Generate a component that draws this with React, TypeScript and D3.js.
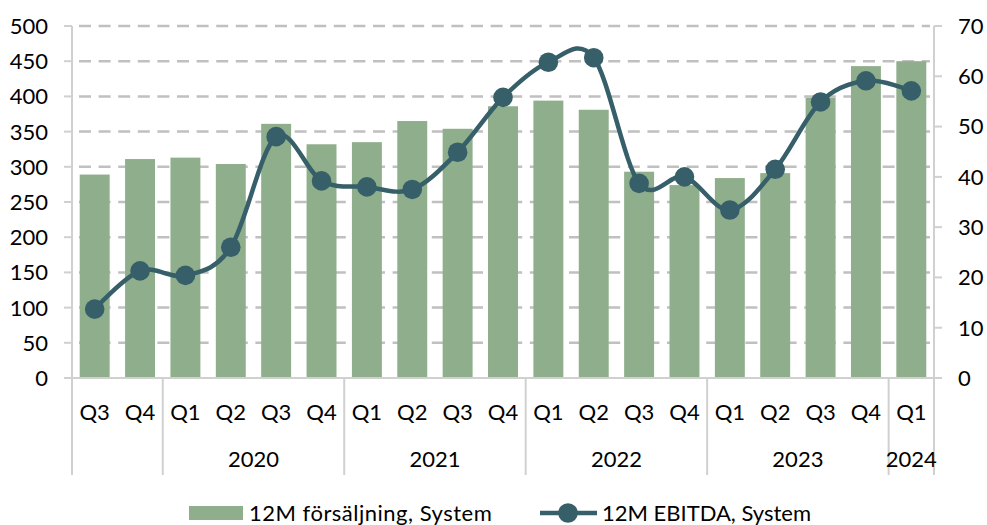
import React from 'react';
import * as d3 from 'd3';

const WIDTH = 987;
const HEIGHT = 525;
const MARGIN = { top: 26, right: 53, bottom: 147, left: 72 };

const quarters = ['Q3', 'Q4', 'Q1', 'Q2', 'Q3', 'Q4', 'Q1', 'Q2', 'Q3', 'Q4', 'Q1', 'Q2', 'Q3', 'Q4', 'Q1', 'Q2', 'Q3', 'Q4', 'Q1'];
const years = ['2019', '2019', '2020', '2020', '2020', '2020', '2021', '2021', '2021', '2021', '2022', '2022', '2022', '2022', '2023', '2023', '2023', '2023', '2024'];
const yearLabels: Record<string, string> = { '2019': '', '2020': '2020', '2021': '2021', '2022': '2022', '2023': '2023', '2024': '2024' };

const sales = [289, 311, 313, 304, 361, 332, 335, 365, 354, 386, 394, 381, 293, 274, 284, 291, 398, 443, 450];
const ebitda = [13.7, 21.3, 20.4, 26.0, 48.0, 39.2, 38.0, 37.5, 44.9, 55.8, 62.8, 63.7, 38.7, 40.0, 33.4, 41.5, 54.9, 59.1, 57.1];

const leftTicks = [0, 50, 100, 150, 200, 250, 300, 350, 400, 450, 500];
const rightTicks = [0, 10, 20, 30, 40, 50, 60, 70];

const salesName = '12M försäljning, System';
const ebitdaName = '12M EBITDA, System';

const BAR = '#8fae8b';
const LINE = '#365f69';
const GRID = '#c0c0c0';
const AXIS = '#d0d0d0';
const FONT = 'Lato, "Open Sans", sans-serif';

export default function App() {
    const plotW = WIDTH - MARGIN.left - MARGIN.right;
    const plotH = HEIGHT - MARGIN.top - MARGIN.bottom;
    const x0 = MARGIN.left;
    const y0 = MARGIN.top;
    const bottom = y0 + plotH;

    const idx = quarters.map((_, i) => String(i));
    const x = d3.scaleBand().domain(idx).range([x0, x0 + plotW]).paddingInner(0.34).paddingOuter(0.17);
    const step = x.step();
    const xStart = (i: number) => x0 + i * step;
    const xMid = (i: number) => x(String(i))! + x.bandwidth() / 2;

    const yL = d3.scaleLinear().domain([0, 500]).range([bottom, y0]);
    const yR = d3.scaleLinear().domain([0, 70]).range([bottom, y0]);

    // excel-style smoothed line
    const line = d3
        .line<number>()
        .x((_, i) => xMid(i))
        .y((d) => yR(d))
        .curve(d3.curveCatmullRom.alpha(0));

    // group years into spans
    const groups: { label: string; start: number; end: number }[] = [];
    years.forEach((yr, i) => {
        const last = groups[groups.length - 1];
        if (last && last.label === yr) last.end = i;
        else groups.push({ label: yr, start: i, end: i });
    });

    const sepBottom = 475;
    const qY = 412;
    const yearY = 459;

    return (
        <svg
            width={WIDTH}
            height={HEIGHT}
            style={{ position: 'absolute', left: 0, top: 0, background: '#fff' }}
            fontFamily={FONT}
            fontSize={22}
            fill="#000"
        >
            {/* gridlines */}
            {leftTicks.slice(1).map((t) => (
                <line
                    key={'g' + t}
                    x1={x0}
                    x2={x0 + plotW - 4}
                    y1={yL(t)}
                    y2={yL(t)}
                    stroke={GRID}
                    strokeWidth={2.5}
                    strokeDasharray="12 7.6"
                    strokeDashoffset={-7}
                />
            ))}

            {/* bars */}
            {sales.map((v, i) => (
                <rect key={'b' + i} x={x(String(i))} y={yL(v)} width={x.bandwidth()} height={bottom - yL(v)} fill={BAR} />
            ))}

            {/* axes */}
            <line x1={x0} x2={x0} y1={y0} y2={bottom} stroke={AXIS} strokeWidth={2} />
            <line x1={x0 + plotW} x2={x0 + plotW} y1={y0} y2={bottom} stroke={AXIS} strokeWidth={2} />
            <line x1={x0 - 8} x2={x0 + plotW} y1={bottom} y2={bottom} stroke={AXIS} strokeWidth={2} />
            {leftTicks.map((t) => (
                <g key={'lt' + t}>
                    <line x1={x0 - 8} x2={x0} y1={yL(t)} y2={yL(t)} stroke={AXIS} strokeWidth={2} />
                    <text x={48} y={yL(t)} dy="0.36em" textAnchor="end">
                        {t}
                    </text>
                </g>
            ))}
            {rightTicks.map((t) => (
                <g key={'rt' + t}>
                    <line x1={x0 + plotW} x2={x0 + plotW + 8} y1={yR(t)} y2={yR(t)} stroke={AXIS} strokeWidth={2} />
                    <text x={958} y={yR(t)} dy="0.36em" textAnchor="start">
                        {t}
                    </text>
                </g>
            ))}

            {/* category separators */}
            {groups.map((g) => (
                <line key={'s' + g.start} x1={xStart(g.start)} x2={xStart(g.start)} y1={bottom} y2={sepBottom} stroke={AXIS} strokeWidth={2} />
            ))}
            <line x1={x0 + plotW} x2={x0 + plotW} y1={bottom} y2={sepBottom} stroke={AXIS} strokeWidth={2} />

            {/* labels */}
            {quarters.map((q, i) => (
                <text key={'q' + i} x={xMid(i)} y={qY} dy="0.36em" textAnchor="middle">
                    {q}
                </text>
            ))}
            {groups.map((g) => (
                <text key={'y' + g.start} x={(xMid(g.start) + xMid(g.end)) / 2} y={yearY} dy="0.36em" textAnchor="middle">
                    {yearLabels[g.label]}
                </text>
            ))}

            {/* ebitda line */}
            <path d={line(ebitda) || ''} fill="none" stroke={LINE} strokeWidth={4.5} />
            {ebitda.map((v, i) => (
                <circle key={'c' + i} cx={xMid(i)} cy={yR(v)} r={9.8} fill={LINE} />
            ))}

            {/* legend */}
            <rect x={189} y={506} width={54} height={14} fill={BAR} />
            <text x={249} y={513} dy="0.36em" letterSpacing={0.5}>
                {salesName}
            </text>
            <line x1={540} x2={597} y1={513} y2={513} stroke={LINE} strokeWidth={4.5} />
            <circle cx={568} cy={513} r={9.8} fill={LINE} />
            <text x={602} y={513} dy="0.36em">
                {ebitdaName}
            </text>
        </svg>
    );
}
